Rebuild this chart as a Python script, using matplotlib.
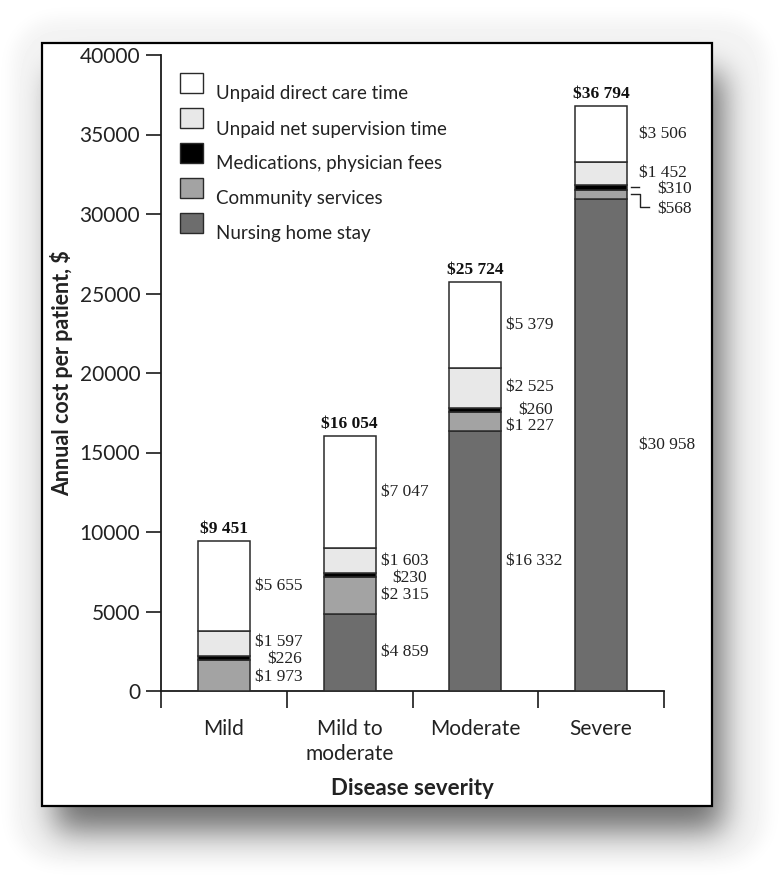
import numpy as np
import matplotlib
matplotlib.use('Agg')
import matplotlib.pyplot as plt
from matplotlib.patches import Rectangle

# ---------------- data ----------------
categories = ['Mild', 'Mild to\nmoderate', 'Moderate', 'Severe']
nursing_home = [0, 4859, 16332, 30958]
community = [1973, 2315, 1227, 568]
medications = [226, 230, 260, 310]
supervision = [1597, 1603, 2525, 1452]
direct_care = [5655, 7047, 5379, 3506]
totals = [9451, 16054, 25724, 36794]
series_names = ['Nursing home stay', 'Community services',
                'Medications, physician fees', 'Unpaid net supervision time',
                'Unpaid direct care time']
y_ticks = [0, 5000, 10000, 15000, 20000, 25000, 30000, 35000, 40000]

# ---------------- style ----------------
W, H = 779, 877
SANS = ['Lato', 'DejaVu Sans']
SERIF = ['Liberation Serif', 'DejaVu Serif']
TXT = '#222222'
colors = ['#6d6d6d', '#a3a3a3', '#000000', '#e8e8e8', '#ffffff']


def money(v):
    return '$' + f'{v:,}'.replace(',', ' ')


def blur(a, s):
    r = int(3 * s)
    k = np.exp(-0.5 * (np.arange(-r, r + 1) / s) ** 2)
    k /= k.sum()
    a = np.apply_along_axis(lambda row: np.convolve(row, k, mode='same'), 1, a)
    a = np.apply_along_axis(lambda col: np.convolve(col, k, mode='same'), 0, a)
    return a


fig = plt.figure(figsize=(W / 100, H / 100), dpi=100)
fig.patch.set_facecolor('white')

# ---------------- background: soft panel, drop shadow, frame ----------------
yy, xx = np.mgrid[0:H, 0:W]
rad = 45
x0p, x1p, y0p, y1p = 12, 767, 18, 862
cx = np.clip(xx, x0p + rad, x1p - rad)
cy = np.clip(yy, y0p + rad, y1p - rad)
panel = (((xx - cx) ** 2 + (yy - cy) ** 2) <= rad ** 2).astype(float)
panel = blur(panel, 8)
shadow = ((xx >= 55) & (xx <= 722) & (yy >= 72) & (yy <= 830)).astype(float)
shadow = blur(shadow, 16)
img = (1 - 0.045 * panel) * (1 - 0.55 * shadow)

bg = fig.add_axes([0, 0, 1, 1])
bg.imshow(img, cmap='gray', vmin=0, vmax=1, extent=(0, W, H, 0),
          interpolation='bilinear')
bg.add_patch(Rectangle((42, 43), 670, 763, facecolor='white',
                       edgecolor='black', linewidth=1.6))
bg.set_xlim(0, W)
bg.set_ylim(H, 0)
bg.axis('off')

# ---------------- main axes ----------------
AX_L, AX_R, AX_T, AX_B = 161, 664, 55, 691
ax = fig.add_axes([AX_L / W, 1 - AX_B / H, (AX_R - AX_L) / W, (AX_B - AX_T) / H])
ax.set_facecolor('none')

x = np.arange(len(categories))
bar_w = 0.414
stack = [nursing_home, community, medications, supervision, direct_care]
bottom = np.zeros(len(categories))
bottoms = []
for vals, col in zip(stack, colors):
    vals = np.array(vals, dtype=float)
    ax.bar(x, vals, bar_w, bottom=bottom, color=col, edgecolor='#2a2a2a',
           linewidth=1.1, zorder=3)
    bottoms.append(bottom.copy())
    bottom = bottom + vals

ax.set_xlim(-0.5, 3.5)
ax.set_ylim(0, 40000)

px_x = (AX_R - AX_L) / 4.0          # pixels per x unit
px_y = (AX_B - AX_T) / 40000.0      # pixels per y unit

# value labels beside segments
for i in range(len(categories)):
    xr = x[i] + bar_w / 2
    for j, vals in enumerate(stack):
        v = vals[i]
        if v <= 0:
            continue
        mid = bottoms[j][i] + v / 2
        dx = 5 if i < 3 else 12
        dy = 0
        if j == 2 and i < 3:
            dx += 12
        if i == 0 and j == 2:
            dy = -1
        if i == 0 and j == 1:
            dy = -2
        if i == 0 and j == 3:
            dy = 1
        if i == 1 and j == 2:
            dy = -3
        if i == 2 and j == 1:
            dy = -4
        if i == 2 and j == 3:
            dy = 1
        if i == 3 and j in (1, 2):
            dx = 30
            dy = -15 if j == 1 else -2
        ax.text(xr + dx / px_x, mid + dy / px_y, money(v), ha='left',
                va='center', fontsize=12.5, family=SERIF, color=TXT, zorder=4)
    # totals
    ax.annotate(money(totals[i]), xy=(x[i], bottom[i]), xytext=(0, 3),
                textcoords='offset points', ha='center', va='bottom',
                fontsize=12.5, fontweight='bold', family=SERIF, color='#111111')

# leader lines for the small severe segments
xr3 = x[3] + bar_w / 2
m_med = bottoms[2][3] + medications[3] / 2
m_com = bottoms[1][3] + community[3] / 2
ax.plot([xr3 + 4 / px_x, xr3 + 12 / px_x], [m_med, m_med], color=TXT, lw=1.0,
        clip_on=False, zorder=4)
ax.plot([xr3 + 4 / px_x, xr3 + 13 / px_x, xr3 + 13 / px_x, xr3 + 22 / px_x],
        [m_com, m_com, m_com - 13 / px_y, m_com - 13 / px_y],
        color=TXT, lw=1.0, clip_on=False, zorder=4)

# axes styling
for s in ['top', 'right']:
    ax.spines[s].set_visible(False)
for s in ['left', 'bottom']:
    ax.spines[s].set_linewidth(1.3)
    ax.spines[s].set_color('#1a1a1a')
ax.set_yticks(y_ticks)
ax.tick_params(axis='y', direction='out', length=11, width=1.2, pad=4,
               labelsize=15, colors='#1a1a1a', labelcolor=TXT)
for t in ax.get_yticklabels():
    t.set_family(SANS)
ax.set_xticks(x)
ax.set_xticklabels(categories, family=SANS, fontsize=15, color=TXT,
                   linespacing=1.3)
ax.tick_params(axis='x', which='major', length=0, pad=20)
ax.set_xticks(np.arange(-0.5, 4.0, 1.0), minor=True)
ax.tick_params(axis='x', which='minor', direction='out', length=12, width=1.2,
               colors='#1a1a1a')

ax.set_xlabel('Disease severity', family=SANS, fontsize=16, fontweight='bold',
              color=TXT)
ax.xaxis.set_label_coords(0.5, -0.137)
ax.set_ylabel('Annual cost per patient, $', family=SANS, fontsize=15.5,
              fontweight='bold', color=TXT, va='center')
ax.yaxis.set_label_coords(-0.197, 0.5)

# legend (drawn as boxes + text, top to bottom)
leg_order = [4, 3, 2, 1, 0]
for r, j in enumerate(leg_order):
    top_px = 73 + r * 35
    ax.add_patch(Rectangle(((180 - AX_L) / (AX_R - AX_L),
                            (AX_B - (top_px + 20)) / (AX_B - AX_T)),
                           23 / (AX_R - AX_L), 20 / (AX_B - AX_T),
                           transform=ax.transAxes, facecolor=colors[j],
                           edgecolor='#2a2a2a', linewidth=1.0, clip_on=False,
                           zorder=5))
    ax.text((216 - AX_L) / (AX_R - AX_L),
            (AX_B - (top_px + 21)) / (AX_B - AX_T), series_names[j],
            transform=ax.transAxes, ha='left', va='center', fontsize=13.5,
            family=SANS, color=TXT, zorder=5)

fig.savefig('out.png', dpi=100)
